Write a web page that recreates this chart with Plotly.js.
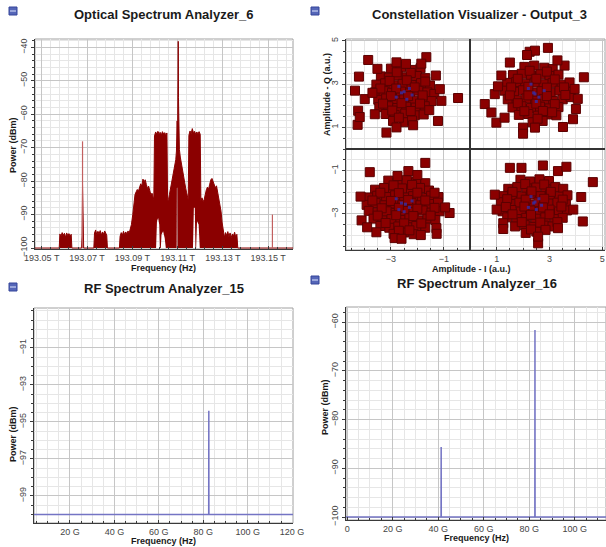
<!DOCTYPE html>
<html><head><meta charset="utf-8">
<script src="https://cdn.plot.ly/plotly-3.0.1.min.js"></script>
<style>html,body{margin:0;padding:0;background:#fff}#chart{width:606px;height:547px}</style>
</head><body><div id="chart"></div>
<script>
// ---------- Optical Spectrum Analyzer_6 (frequency in THz, power in dBm) ----------
const optFreq = [193.047,193.0577,193.0580,193.0585,193.0590,193.0595,193.0600,193.0605,193.0610,193.0615,193.0620,193.0625,193.0630,193.0633,
193.0676,193.0678,193.0680,193.0682,193.0685,193.0730,193.0733,193.0738,193.0743,193.0748,193.0753,193.0758,193.0763,193.0768,193.0773,193.0778,193.0783,193.0787,193.0790,
193.0843,193.0846,193.0851,193.0856,193.0861,193.0866,193.0871,193.0876,193.0881,193.0886,193.0891,193.0896,193.0902,193.0907,193.0912,193.0917,193.0922,193.0927,193.0932,193.0937,193.0942,193.0947,193.0952,193.0957,193.0962,193.0967,193.0972,193.0977,193.0982,193.0987,193.0992,193.0995,
193.0998,193.1003,193.1008,193.1013,193.1018,193.1023,193.1028,193.1033,193.1038,193.1043,193.1048,193.1053,193.1056,193.1060,193.1064,193.1068,193.1072,193.1076,193.1080,193.1084,193.1088,193.1092,193.1095,193.1098,193.1100,193.1102,193.1103,193.1104,193.1106,193.1108,193.1112,193.1116,193.1120,193.1124,193.1128,193.1132,193.1136,193.1140,193.1144,193.1147,
193.1150,193.1155,193.1160,193.1165,193.1170,193.1175,193.1180,193.1185,193.1190,193.1195,193.1200,193.1203,193.1208,193.1213,193.1218,193.1222,193.1227,193.1232,193.1237,193.1242,193.1247,193.1252,193.1257,193.1262,193.1267,193.1272,193.1277,193.1282,193.1287,193.1292,193.1297,193.1302,
193.1307,193.1312,193.1317,193.1322,193.1327,193.1332,193.1337,193.1342,193.1347,193.1352,193.1357,193.1362,193.1366,193.161];
const optPeak = [-100,-100,-95.8,-96.5,-95.4,-96.2,-95.6,-96.8,-95.5,-96.3,-95.7,-96.4,-95.9,-100,
-100,-96.4,-81.0,-96.6,-100,-100,-95.5,-94.6,-96.0,-95.0,-95.8,-94.8,-96.1,-95.2,-95.9,-94.9,-95.6,-96.2,-100,
-100,-96.5,-95.4,-96.2,-95.0,-96.0,-95.2,-95.8,-94.9,-95.6,-94.5,-93.0,-90.0,-86.5,-84.0,-83.2,-82.5,-83.0,-81.6,-80.8,-81.5,-79.4,-80.2,-79.6,-81.0,-82.2,-81.5,-83.0,-84.1,-83.6,-85.0,-85.5,
-66.5,-65.3,-66.0,-65.1,-65.8,-65.4,-66.2,-65.2,-65.9,-65.5,-66.1,-65.6,-86.0,-85.5,-84.0,-82.5,-81.0,-79.6,-78.2,-76.8,-75.2,-73.6,-71.0,-62.0,-68.0,-55.0,-38.2,-55.0,-68.0,-70.5,-72.8,-74.6,-76.2,-77.8,-79.4,-80.8,-82.2,-83.5,-85.0,-85.6,
-66.3,-65.0,-65.8,-64.3,-65.5,-65.1,-66.0,-65.3,-65.9,-65.2,-66.0,-85.8,-85.0,-86.2,-85.4,-83.8,-82.6,-81.8,-82.4,-80.9,-79.6,-79.2,-80.1,-80.8,-82.0,-81.4,-83.2,-84.6,-86.5,-89.0,-92.5,-95.6,
-96.8,-95.4,-96.3,-95.1,-96.6,-95.5,-96.9,-95.8,-96.4,-95.3,-96.7,-95.9,-100,-100];
// lower edge of the dense trace (gaps where the signal never reaches the floor)
const optLowFreq = [193.047,193.1005,193.1009,193.1014,193.1019,193.1022,193.1026,193.1029,193.1036,193.1043,193.1048,193.1096,193.1097,193.1099,193.1100,193.1168,193.1172,193.1176,193.1179,193.1182,193.1186,193.1193,193.1198,193.161];
const optLowLevel = [-100,-100,-92,-91,-93,-100,-100,-96,-95,-97,-100,-100,-82,-82,-100,-100,-88,-88,-100,-100,-92,-93,-100,-100];
// thin isolated lines
const optLineFreq = [193.0680, 193.1519];
const optLineTop = [-68.1, -90.0];
const optTickVals = [193.05,193.07,193.09,193.11,193.13,193.15];
const optTickText = ["193.05 T","193.07 T","193.09 T","193.11 T","193.13 T","193.15 T"];
const optYTicks = [-40,-50,-60,-70,-80,-90,-100];

// ---------- Constellation Visualizer - Output_3 ----------
const tlI = [-3.00,-2.62,-2.18,-1.88,-3.38,-3.08,-2.74,-2.40,-2.02,-1.70,-3.55,-3.22,-2.90,-2.55,-2.22,-1.86,-1.52,-3.60,-3.28,-2.96,-2.62,-2.28,-1.96,-1.62,-1.36,-3.48,-3.18,-2.84,-2.50,-2.16,-1.80,-1.46,-3.44,-3.10,-2.76,-2.42,-2.06,-1.72,-3.20,-2.86,-2.46,-2.10,-1.76,-2.92,-2.52,-2.20,
-2.78,-2.25,-3.05,-2.40,-1.70,-3.40,-2.80,-2.10,-1.80,-3.00,-2.35,-3.30,-2.60,-1.90,-2.95,-2.25,-1.55,-2.70,
-3.86,-3.51,-4.21,-4.36,-3.99,-4.24,-4.26,-4.18,-3.61,-3.17,-2.79,-2.16,-1.66,-1.85,-1.22,-0.46,-1.09,-1.15,-2.79,-2.43,-1.30,-3.70];
const tlQ = [3.72,3.78,3.66,3.74,3.36,3.30,3.40,3.32,3.38,3.28,2.98,3.04,2.95,3.02,2.96,3.05,2.94,2.62,2.68,2.60,2.66,2.58,2.70,2.62,2.55,2.28,2.34,2.25,2.30,2.24,2.32,2.22,1.94,1.98,1.90,1.96,1.92,1.98,1.62,1.58,1.64,1.56,1.60,1.30,1.24,1.32,
3.55,3.52,3.15,3.18,3.12,2.80,2.80,2.85,2.48,2.45,2.45,2.10,2.12,2.10,1.78,1.76,1.80,1.45,
4.12,3.71,3.35,2.70,2.31,1.77,1.12,1.48,1.61,0.76,1.00,1.10,4.25,3.95,1.30,2.36,2.23,2.77,4.01,3.94,3.40,2.60];
const trI = [2.05,2.42,2.80,3.12,1.62,1.95,2.30,2.66,3.00,3.34,1.40,1.74,2.08,2.44,2.78,3.12,3.46,3.76,1.30,1.66,2.00,2.36,2.70,3.04,3.38,3.70,1.42,1.76,2.12,2.46,2.80,3.14,3.50,3.80,1.60,1.94,2.30,2.64,3.00,3.34,1.84,2.20,2.56,2.92,3.26,2.36,2.74,
2.25,2.90,1.80,2.50,3.20,1.55,2.20,2.90,3.55,1.50,2.20,2.90,3.60,1.80,2.50,3.20,2.05,2.75,3.10,2.55,
2.94,2.25,2.45,2.15,1.18,4.30,3.95,4.07,0.55,0.80,0.99,1.30,2.00,2.00,2.45,3.51,3.89,4.00,0.93,3.57,1.50,3.30,1.05];
const trQ = [3.80,3.86,3.76,3.70,3.42,3.48,3.40,3.46,3.38,3.44,3.06,3.10,3.02,3.08,3.00,3.06,2.98,3.08,2.70,2.64,2.72,2.62,2.68,2.60,2.70,2.64,2.30,2.26,2.34,2.24,2.32,2.22,2.30,2.40,1.92,1.98,1.90,1.96,1.88,1.94,1.58,1.62,1.54,1.60,1.56,1.24,1.30,
3.62,3.58,3.25,3.25,3.22,2.85,2.88,2.84,2.85,2.48,2.48,2.45,2.50,2.12,2.10,2.08,1.75,1.76,1.70,1.40,
4.68,4.50,4.55,4.35,3.40,3.32,2.78,2.32,2.08,1.69,1.22,1.45,0.99,0.71,0.99,1.02,1.38,1.85,2.54,3.86,4.00,4.10,2.90];
const blI = [-3.10,-2.75,-2.40,-2.05,-1.70,-3.60,-3.26,-2.92,-2.58,-2.24,-1.90,-1.56,-3.86,-3.52,-3.18,-2.84,-2.50,-2.16,-1.82,-1.48,-1.20,-3.92,-3.58,-3.24,-2.90,-2.56,-2.22,-1.88,-1.54,-1.22,-3.84,-3.50,-3.16,-2.82,-2.48,-2.14,-1.80,-1.46,-1.16,-3.66,-3.32,-2.98,-2.64,-2.30,-1.96,-1.62,-1.32,-3.40,-3.06,-2.72,-2.38,-2.04,-1.70,-2.90,-2.50,-2.14,
-2.90,-2.20,-3.40,-2.70,-2.00,-1.35,-3.70,-3.00,-2.35,-1.70,-3.35,-2.70,-2.00,-1.35,-3.50,-2.80,-2.15,-1.50,-3.20,-2.50,-1.85,-2.70,-2.30,
-1.70,-3.80,-2.34,-2.75,-0.78,-4.11,-4.15,-2.86,-2.60,-1.28,-1.27,-1.87,-3.90,-3.55,-0.95,-2.00];
const blQ = [-1.46,-1.55,-1.44,-1.52,-1.58,-1.88,-1.80,-1.90,-1.82,-1.88,-1.80,-1.92,-2.24,-2.16,-2.22,-2.14,-2.24,-2.18,-2.26,-2.16,-2.22,-2.58,-2.50,-2.60,-2.52,-2.58,-2.50,-2.60,-2.54,-2.48,-2.86,-2.94,-2.88,-2.96,-2.86,-2.92,-2.84,-2.94,-2.88,-3.22,-3.30,-3.24,-3.28,-3.20,-3.30,-3.22,-3.28,-3.56,-3.64,-3.58,-3.62,-3.56,-3.64,-3.92,-3.86,-3.94,
-1.68,-1.66,-2.02,-2.04,-2.02,-2.02,-2.38,-2.40,-2.36,-2.38,-2.74,-2.72,-2.76,-2.72,-3.08,-3.06,-3.10,-3.08,-3.42,-3.44,-3.44,-3.78,-3.76,
-0.64,-1.07,-1.02,-1.25,-2.96,-3.30,-2.20,-4.12,-4.15,-3.66,-3.92,-3.98,-3.62,-3.85,-2.70,-1.20];
const brI = [1.90,2.26,2.62,2.98,1.44,1.78,2.14,2.50,2.86,3.22,3.52,1.24,1.58,1.94,2.30,2.66,3.02,3.38,3.68,1.16,1.50,1.86,2.22,2.58,2.94,3.30,3.62,1.22,1.56,1.92,2.28,2.64,3.00,3.36,3.66,1.40,1.76,2.12,2.48,2.84,3.20,3.50,1.70,2.06,2.42,2.78,3.12,2.10,2.50,
2.08,2.80,1.60,2.32,3.05,1.40,2.10,2.80,3.50,1.35,2.05,2.75,3.45,1.60,2.30,3.00,1.95,2.65,3.30,2.30,2.85,
1.94,2.75,3.32,3.64,4.64,4.20,0.93,1.25,1.25,4.26,2.57,2.57,3.32,1.50,3.90,1.00];
const brQ = [-1.42,-1.50,-1.40,-1.48,-1.84,-1.76,-1.82,-1.78,-1.86,-1.76,-1.84,-2.18,-2.12,-2.20,-2.10,-2.18,-2.12,-2.20,-2.14,-2.46,-2.54,-2.48,-2.56,-2.46,-2.52,-2.48,-2.56,-2.88,-2.82,-2.90,-2.84,-2.88,-2.80,-2.90,-2.84,-3.16,-3.24,-3.18,-3.22,-3.16,-3.24,-3.18,-3.58,-3.52,-3.60,-3.54,-3.58,-3.88,-3.82,
-1.62,-1.64,-1.98,-1.96,-1.98,-2.32,-2.34,-2.30,-2.34,-2.68,-2.66,-2.70,-2.66,-3.02,-3.04,-3.02,-3.38,-3.40,-3.38,-3.72,-3.74,
-0.87,-0.76,-1.02,-0.82,-1.53,-2.22,-2.11,-3.43,-3.70,-3.35,-4.36,-4.05,-3.66,-0.87,-2.80,-2.80];
// sampled symbol points (blue) near the cluster centres
const symI = [-2.6,-2.3,-2.8,-2.4,-2.7,-2.2,-2.5,2.4,2.6,2.2,2.5,2.8,2.3,2.45,-2.6,-2.3,-2.8,-2.5,-2.2,-2.7,-2.45,2.4,2.6,2.2,2.5,2.7,2.3,2.45];
const symQ = [2.6,2.8,2.4,2.3,2.9,2.5,2.65,2.6,2.4,2.8,2.2,2.7,3.0,2.55,-2.5,-2.7,-2.3,-2.9,-2.4,-2.8,-2.55,-2.5,-2.3,-2.7,-2.8,-2.6,-2.2,-2.45];
const conTicks = [-3,-1,1,3,5];

// ---------- RF Spectrum Analyzers (frequency in GHz, power in dBm) ----------
const rfFloor = -100;
const rf15ToneFreq = [82.5];
const rf15ToneLevel = [-94.4];
const rf16ToneFreq = [41.3, 82.5];
const rf16ToneLevel = [-85.6, -61.6];
const rf15TickVals = [20,40,60,80,100,120];
const rf15TickText = ["20 G","40 G","60 G","80 G","100 G","120 G"];
const rf15YTicks = [-91,-93,-95,-97,-99];
const rf16TickVals = [0,20,40,60,80,100,120];
const rf16TickText = ["0","20 G","40 G","60 G","80 G","100 G","120 G"];
const rf16YTicks = [-60,-70,-80,-90,-100];

// ---------- build ----------
function stemLine(freqs, levels, lo, hi, floor){
  const x=[lo], y=[floor];
  for(let i=0;i<freqs.length;i++){
    x.push(freqs[i]-0.05, freqs[i], freqs[i]+0.05);
    y.push(floor, levels[i], floor);
  }
  x.push(hi); y.push(floor);
  return {x, y};
}
const lineX=[], lineY=[];
optLineFreq.forEach((f,i)=>{ lineX.push(f,f,null); lineY.push(-100,optLineTop[i],null); });

const RED='#8b0000', BLUE='#7474c4';
const rf15 = stemLine(rf15ToneFreq, rf15ToneLevel, 0, 125, rfFloor);
const rf16 = stemLine(rf16ToneFreq, rf16ToneLevel, -1, 125, rfFloor);
const sq = {symbol:'square', size:9, color:RED, line:{color:'#5a0000', width:1}};

const traces = [
  {x:optLowFreq, y:optLowLevel, xaxis:'x', yaxis:'y', mode:'lines', line:{width:0, color:RED}, hoverinfo:'skip'},
  {x:optFreq, y:optPeak, xaxis:'x', yaxis:'y', mode:'lines', fill:'tonexty', fillcolor:RED, line:{color:RED, width:1}},
  {x:lineX, y:lineY, xaxis:'x', yaxis:'y', mode:'lines', line:{color:'#c26060', width:1.2}},
  {x:tlI, y:tlQ, xaxis:'x2', yaxis:'y2', mode:'markers', marker:sq},
  {x:trI, y:trQ, xaxis:'x2', yaxis:'y2', mode:'markers', marker:sq},
  {x:blI, y:blQ, xaxis:'x2', yaxis:'y2', mode:'markers', marker:sq},
  {x:brI, y:brQ, xaxis:'x2', yaxis:'y2', mode:'markers', marker:sq},
  {x:symI, y:symQ, xaxis:'x2', yaxis:'y2', mode:'markers', marker:{symbol:'square', size:3, color:'#3a2c9c', opacity:0.85}},
  {x:rf15.x, y:rf15.y, xaxis:'x3', yaxis:'y3', mode:'lines', line:{color:BLUE, width:1.5}},
  {x:rf16.x, y:rf16.y, xaxis:'x4', yaxis:'y4', mode:'lines', line:{color:BLUE, width:1.5}}
];

const W=606, H=547;
const px=v=>v/W, py=v=>1-v/H;
const FONT='Arial, Liberation Sans';
function yaxis(extra){
  return Object.assign({
    showline:true, linecolor:'#3a3a3a', linewidth:1, mirror:false,
    ticks:'outside', ticklen:3, tickcolor:'#3a3a3a',
    showgrid:true, gridcolor:'#c6c6c6', gridwidth:1, zeroline:false, tickangle:-90,
    tickfont:{family:FONT, size:9, color:'#444'}, fixedrange:true
  }, extra);
}
function xaxis(extra){
  return Object.assign({
    showline:true, linecolor:'#3a3a3a', linewidth:1, mirror:false,
    ticks:'inside', ticklen:3, tickcolor:'#3a3a3a',
    showgrid:true, gridcolor:'#c6c6c6', gridwidth:1, zeroline:false,
    tickfont:{family:FONT, size:9, color:'#444'}, fixedrange:true
  }, extra);
}
function minor(d, inside){ return {dtick:d, showgrid:true, gridcolor:'#e6e6e6', ticks:inside?'inside':'outside', ticklen:2, tickcolor:'#3a3a3a'}; }

const layout = {
  width:W, height:H, margin:{l:0,r:0,t:0,b:0}, showlegend:false,
  paper_bgcolor:'#fff', plot_bgcolor:'#fff',
  xaxis: xaxis({domain:[px(35),px(293)], anchor:'y', range:[193.047,193.161], tickmode:'array', tickvals:optTickVals, ticktext:optTickText, minor:Object.assign(minor(0.004,1),{tick0:193.05})}),
  yaxis: yaxis({domain:[py(249),py(39)], anchor:'x', range:[-100.3,-37.5], tickmode:'array', tickvals:optYTicks, minor:Object.assign(minor(2),{tick0:-100})}),
  xaxis2: xaxis({domain:[px(346),px(605)], anchor:'y2', range:[-4.7,5.1], tickmode:'array', tickvals:conTicks, minor:Object.assign(minor(0.5,1),{tick0:0}), zeroline:true, zerolinecolor:'#333', zerolinewidth:1.5}),
  yaxis2: yaxis({domain:[py(250),py(39)], anchor:'x2', range:[-4.67,5.09], tickmode:'array', tickvals:conTicks, minor:Object.assign(minor(0.5),{tick0:0}), zeroline:true, zerolinecolor:'#333', zerolinewidth:1.5}),
  xaxis3: xaxis({domain:[px(34),px(293)], anchor:'y3', range:[3.8,120.4], tickmode:'array', tickvals:rf15TickVals, ticktext:rf15TickText, minor:Object.assign(minor(5,1),{tick0:0})}),
  yaxis3: yaxis({domain:[py(523),py(308)], anchor:'x3', range:[-100.46,-88.84], tickmode:'array', tickvals:rf15YTicks, minor:Object.assign(minor(0.5),{tick0:-91})}),
  xaxis4: xaxis({domain:[px(346),px(606)], anchor:'y4', range:[-0.5,113.7], tickmode:'array', tickvals:rf16TickVals, ticktext:rf16TickText, minor:Object.assign(minor(5,1),{tick0:0})}),
  yaxis4: yaxis({domain:[py(520),py(307)], anchor:'x4', range:[-100.6,-56.9], tickmode:'array', tickvals:rf16YTicks, minor:Object.assign(minor(2),{tick0:-100})}),
  shapes: [],
  annotations: []
};
// light frame on top/right of each plot area
[['x','y'],['x2','y2'],['x3','y3'],['x4','y4']].forEach(([xa,ya])=>{
  layout.shapes.push({type:'rect', xref:xa+' domain', yref:ya+' domain', x0:0, x1:1, y0:0, y1:1, line:{color:'#a0a0a0', width:1}, layer:'below'});
});
// small window icons
[[9,7],[311,7],[9,283],[311,276]].forEach(([ix,iy])=>{
  layout.shapes.push({type:'rect', xref:'paper', yref:'paper', x0:px(ix), x1:px(ix+8), y0:py(iy+8), y1:py(iy), fillcolor:'#5566b8', line:{color:'#34449a', width:1}});
  layout.shapes.push({type:'line', xref:'paper', yref:'paper', x0:px(ix+1), x1:px(ix+7), y0:py(iy+4), y1:py(iy+4), line:{color:'#dfe6ff', width:1}});
});
const T = (text,x,y,size,angle)=>({text:text, x:px(x), y:py(y), xref:'paper', yref:'paper', showarrow:false, textangle:angle||0,
  font:{family:FONT, size:size, color:'#1a1a1a'}, xanchor:'center', yanchor:'middle'});
layout.annotations.push(
  T('<b>Optical Spectrum Analyzer_6</b>',163,15,13),
  T('<b>Constellation Visualizer - Output_3</b>',479,15,13),
  T('<b>RF Spectrum Analyzer_15</b>',164,288,13),
  T('<b>RF Spectrum Analyzer_16</b>',477,283,13),
  T('<b>Power (dBm)</b>',13,145,9,-90),
  T('<b>Frequency (Hz)</b>',163,268,9),
  T('<b>Amplitude - Q (a.u.)</b>',327,95,9,-90),
  T('<b>Amplitude - I (a.u.)</b>',471,269,9),
  T('<b>Power (dBm)</b>',13,434,9,-90),
  T('<b>Frequency (Hz)</b>',163,541,9),
  T('<b>Power (dBm)</b>',325,407,9,-90),
  T('<b>Frequency (Hz)</b>',476,538,9)
);
Plotly.newPlot('chart', traces, layout, {displayModeBar:false, staticPlot:true});
</script>
</body></html>
